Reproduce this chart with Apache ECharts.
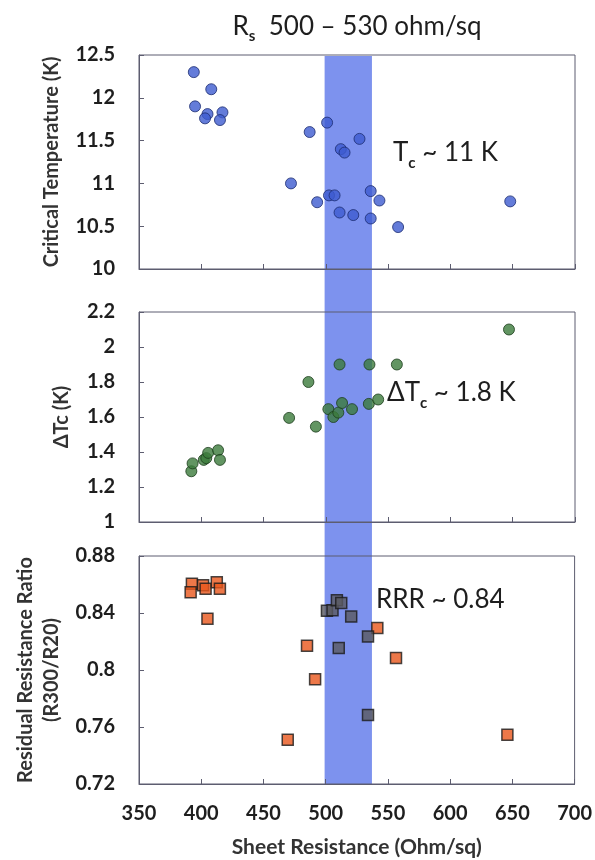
<!DOCTYPE html>
<html>
<head>
<meta charset="utf-8">
<script src="https://cdn.jsdelivr.net/npm/echarts@6/dist/echarts.min.js"></script>
<style>
  html, body { margin: 0; padding: 0; background: #ffffff; }
  #chart { width: 595px; height: 860px; }
</style>
</head>
<body>
<div id="chart"></div>
<script>
// Sheet resistance axis
const xTicks = { min: 350, max: 700, step: 50 };
// Highlighted sheet-resistance window (ohm/sq)
const bandRange = [499, 537];

// Critical temperature Tc (K) vs sheet resistance
const tcX = [394, 408, 395, 405, 403, 417, 415, 472, 487, 493, 501, 502.5, 507, 511, 512, 515, 522, 527, 536, 536, 543, 558, 648];
const tcY = [12.30, 12.10, 11.90, 11.81, 11.76, 11.83, 11.74, 11.00, 11.60, 10.78, 11.71, 10.86, 10.86, 10.66, 11.40, 11.36, 10.63, 11.52, 10.91, 10.59, 10.80, 10.49, 10.79];

// Transition width dTc (K)
const dtcX = [392, 393, 402, 404, 405.5, 413.5, 415, 470.5, 486, 492, 502, 506, 510, 511, 513, 521, 534.5, 535, 542, 557, 647];
const dtcY = [1.29, 1.335, 1.355, 1.365, 1.395, 1.41, 1.355, 1.595, 1.80, 1.545, 1.645, 1.60, 1.625, 1.90, 1.68, 1.645, 1.675, 1.90, 1.70, 1.90, 2.10];

// Residual resistance ratio R300/R20, outside the window
const rrrX = [392.5, 391.5, 401.5, 403.5, 412.5, 415, 405, 469.5, 485, 491.5, 541.5, 556.5, 646];
const rrrY = [0.8605, 0.8545, 0.8595, 0.857, 0.8615, 0.857, 0.836, 0.751, 0.817, 0.7935, 0.8295, 0.8085, 0.7545];
// Residual resistance ratio inside the window
const rrrInX = [501, 505.5, 509, 512.5, 520.5, 510.5, 534, 534];
const rrrInY = [0.8415, 0.842, 0.849, 0.847, 0.8375, 0.8155, 0.8235, 0.7685];

// y-axis ranges
const tcAxis = { min: 10, max: 12.5, step: 0.5 };
const dtcAxis = { min: 1, max: 2.2, step: 0.2 };
const rrrAxis = { min: 0.72, max: 0.88, step: 0.04 };

const zip = (xs, ys) => xs.map((x, i) => [x, ys[i]]);

const FONT = 'Lato';
const frame = '#5d5d70';
const tickLabel = { fontFamily: FONT, fontSize: 20, fontWeight: 'bold', color: '#1e1e1e' };

const panels = [
  { top: 55, height: 214 },
  { top: 312, height: 210 },
  { top: 556, height: 228 }
];

function xAxisFor(i, showLabels) {
  return {
    type: 'value', gridIndex: i, min: xTicks.min, max: xTicks.max, interval: xTicks.step,
    z: 3,
    axisLine: { show: true, lineStyle: { color: frame, width: 1 } },
    axisTick: { show: true, inside: true, length: 5, lineStyle: { color: frame } },
    splitLine: { show: false },
    axisLabel: Object.assign({ show: showLabels, margin: 20 }, tickLabel),
    name: showLabels ? 'Sheet Resistance (Ohm/sq)' : '',
    nameLocation: 'middle', nameGap: 53,
    nameTextStyle: { fontFamily: FONT, fontSize: 21, fontWeight: 'bold', color: '#333' }
  };
}

function yAxisFor(i, ax, name, gap) {
  return {
    type: 'value', gridIndex: i, min: ax.min, max: ax.max, interval: ax.step,
    z: 3,
    axisLine: { show: true, lineStyle: { color: frame, width: 1 } },
    axisTick: { show: true, inside: true, length: 5, lineStyle: { color: frame } },
    splitLine: { show: false },
    axisLabel: Object.assign({ margin: 24 }, tickLabel),
    name: name, nameLocation: 'middle', nameGap: gap,
    nameTextStyle: { fontFamily: FONT, fontSize: 20, fontWeight: 'bold', color: '#333', lineHeight: 26 }
  };
}

const grids = panels.map(p => ({
  left: 139, width: 436, top: p.top, height: p.height,
  show: true, borderColor: frame, borderWidth: 1, backgroundColor: 'transparent', z: 3
}));
// full-height grid carrying the highlight band across all three panels
grids.push({ left: 139, width: 436, top: 56, height: 728, show: false });

const chart = echarts.init(document.getElementById('chart'), null, { renderer: 'canvas' });

chart.setOption({
  animation: false,
  backgroundColor: '#ffffff',
  grid: grids,
  xAxis: [
    xAxisFor(0, false), xAxisFor(1, false), xAxisFor(2, true),
    { type: 'value', gridIndex: 3, min: xTicks.min, max: xTicks.max, show: false }
  ],
  yAxis: [
    yAxisFor(0, tcAxis, 'Critical Temperature (K)', 62),
    yAxisFor(1, dtcAxis, 'ΔTc (K)', 64),
    yAxisFor(2, rrrAxis, 'Residual Resistance Ratio\n(R300/R20)', 64),
    { type: 'value', gridIndex: 3, min: 0, max: 1, show: false }
  ],
  series: [
    {
      type: 'custom', xAxisIndex: 3, yAxisIndex: 3, z: 1, silent: true,
      data: [[bandRange[0], bandRange[1]]],
      renderItem: function (params, api) {
        const a = api.coord([api.value(0), 1]);
        const b = api.coord([api.value(1), 0]);
        return {
          type: 'rect',
          shape: { x: a[0], y: a[1], width: b[0] - a[0], height: b[1] - a[1] },
          style: { fill: '#7d92ee' }
        };
      }
    },
    {
      type: 'scatter', xAxisIndex: 0, yAxisIndex: 0, z: 5,
      symbol: 'circle', symbolSize: 11,
      itemStyle: { color: '#3d5bd0', borderColor: '#1c2c70', borderWidth: 1 },
      data: zip(tcX, tcY)
    },
    {
      type: 'scatter', xAxisIndex: 1, yAxisIndex: 1, z: 5,
      symbol: 'circle', symbolSize: 11,
      itemStyle: { color: '#3b7a3b', borderColor: '#1d3d1d', borderWidth: 1 },
      data: zip(dtcX, dtcY)
    },
    {
      type: 'scatter', xAxisIndex: 2, yAxisIndex: 2, z: 5,
      symbol: 'rect', symbolSize: 11,
      itemStyle: { color: '#e8561c', borderColor: '#1a1a1a', borderWidth: 1.5 },
      data: zip(rrrX, rrrY)
    },
    {
      type: 'scatter', xAxisIndex: 2, yAxisIndex: 2, z: 5,
      symbol: 'rect', symbolSize: 11,
      itemStyle: { color: '#5a5a60', borderColor: '#1a1a1a', borderWidth: 1.5 },
      data: zip(rrrInX, rrrInY)
    }
  ],
  graphic: [
    {
      type: 'text', x: 357, y: 24, z: 10,
      style: {
        text: '{a|R}{s|s}{a|  500 – 530 ohm/sq}',
        align: 'center', verticalAlign: 'middle',
        rich: {
          a: { fontFamily: FONT, fontSize: 26, fill: '#1e1e1e', lineHeight: 32, verticalAlign: 'bottom' },
          s: { fontFamily: FONT, fontSize: 15, fontWeight: 'bold', fill: '#1e1e1e', lineHeight: 32, verticalAlign: 'bottom', padding: [0, 0, -4, 0] }
        }
      }
    },
    {
      type: 'text', x: 393, y: 150, z: 10,
      style: {
        text: '{a|T}{s|c}{a| ~ 11 K}',
        verticalAlign: 'middle',
        rich: {
          a: { fontFamily: FONT, fontSize: 26, fill: '#1e1e1e', lineHeight: 32, verticalAlign: 'bottom' },
          s: { fontFamily: FONT, fontSize: 15, fontWeight: 'bold', fill: '#1e1e1e', lineHeight: 32, verticalAlign: 'bottom', padding: [0, 0, -5, 0] }
        }
      }
    },
    {
      type: 'text', x: 387, y: 390, z: 10,
      style: {
        text: '{a|ΔT}{s|c}{a| ~ 1.8 K}',
        verticalAlign: 'middle',
        rich: {
          a: { fontFamily: FONT, fontSize: 26, fill: '#1e1e1e', lineHeight: 32, verticalAlign: 'bottom' },
          s: { fontFamily: FONT, fontSize: 15, fontWeight: 'bold', fill: '#1e1e1e', lineHeight: 32, verticalAlign: 'bottom', padding: [0, 0, -5, 0] }
        }
      }
    },
    {
      type: 'text', x: 376, y: 600, z: 10,
      style: {
        text: 'RRR ~ 0.84',
        verticalAlign: 'middle',
        fontFamily: FONT, fontSize: 26, fill: '#1e1e1e'
      }
    }
  ]
});
</script>
</body>
</html>
